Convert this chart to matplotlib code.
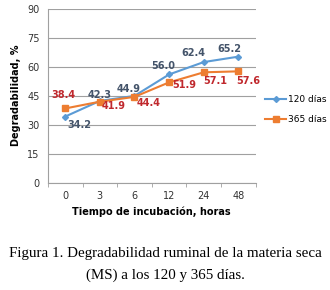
import numpy as np
import matplotlib
matplotlib.use('Agg')
import matplotlib.pyplot as plt

horas = ['0', '3', '6', '12', '24', '48']
dias_120 = [34.2, 42.3, 44.9, 56.0, 62.4, 65.2]
dias_365 = [38.4, 41.9, 44.4, 51.9, 57.1, 57.6]

# label offsets in pixels (dx, dy)
off_120 = [(14, -8), (0, 6), (-6, 7), (-6, 8), (-10, 9), (-9, 8)]
off_365 = [(-2, 13), (14, -4), (14, -6), (15, -3), (11, -9), (10, -10)]

fig = plt.figure(figsize=(3.3, 2.9), dpi=100)
ax = fig.add_axes([0.145, 0.37, 0.63, 0.60])

x = np.arange(len(horas))
blue = '#5B9BD5'
orange = '#ED7D31'
ax.plot(x, dias_120, color=blue, marker='D', markersize=3, linewidth=1.5, label='120 días')
ax.plot(x, dias_365, color=orange, marker='s', markersize=4.5, linewidth=1.5, label='365 días')

for i in x:
    ax.annotate(f'{dias_120[i]:.1f}', (i, dias_120[i]), xytext=off_120[i], textcoords='offset pixels',
                ha='center', va='center', fontsize=7, fontweight='bold', color='#44546A')
    ax.annotate(f'{dias_365[i]:.1f}', (i, dias_365[i]), xytext=off_365[i], textcoords='offset pixels',
                ha='center', va='center', fontsize=7, fontweight='bold', color='#C0282D')

ax.set_xlim(-0.5, len(horas) - 0.5)
ax.set_ylim(0, 90)
ax.set_yticks(range(0, 91, 15))
ax.set_xticks(x)
ax.set_xticklabels(horas)
ax.set_xticks(np.arange(-0.5, len(horas), 1), minor=True)
ax.tick_params(axis='x', which='major', length=0, pad=6, labelsize=7, colors='#333333')
ax.tick_params(axis='x', which='minor', length=3, color='#A0A0A0')
ax.tick_params(axis='y', length=0, labelsize=7, colors='#333333', pad=6)
ax.grid(axis='y', color='#A0A0A0', linewidth=0.8)
ax.set_axisbelow(True)
for s in ['top', 'right']:
    ax.spines[s].set_visible(False)
for s in ['left', 'bottom']:
    ax.spines[s].set_color('#A0A0A0')

ax.set_xlabel('Tiempo de incubación, horas', fontsize=7, fontweight='bold', labelpad=4)
ax.set_ylabel('Degradabilidad, %', fontsize=7, fontweight='bold', labelpad=4)

ax.legend(loc='center left', bbox_to_anchor=(1.02, 0.42), frameon=False, fontsize=6.5,
          handlelength=2.3, handletextpad=0.2, labelspacing=1.3, borderaxespad=0.2)

fig.text(0.5, 0.115, 'Figura 1. Degradabilidad ruminal de la materia seca', ha='center',
         family='Liberation Serif', fontsize=10.8)
fig.text(0.5, 0.04, '(MS) a los 120 y 365 días.', ha='center',
         family='Liberation Serif', fontsize=10.8)

fig.savefig('out.png', dpi=100)
